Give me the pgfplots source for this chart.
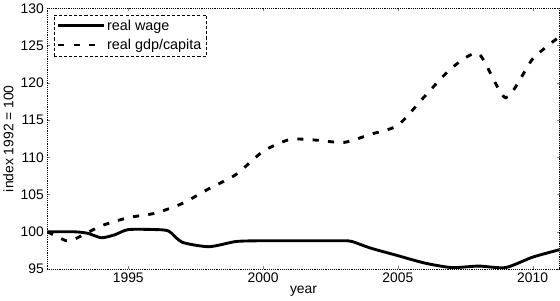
\documentclass[border=0pt]{standalone}
\usepackage{pgfplots}
\pgfplotsset{compat=1.18}
\usepackage{fontspec}
\setmainfont{Liberation Sans}
\begin{document}
\begin{tikzpicture}
\begin{axis}[
  scale only axis,
  width=497bp, height=253bp,
  xmin=1992, xmax=2011, ymin=95, ymax=130,
  xtick={1995,2000,2005,2010},
  ytick={95,100,...,130},
  tick align=inside,
  xticklabel style={/pgf/number format/1000 sep={}},
  /pgf/number format/assume math mode=true,
  tick label style={font=\fontsize{13.5}{14}\selectfont},
  label style={font=\fontsize{13.5}{14}\selectfont},
  xlabel={year}, ylabel={index 1992 = 100},
  xlabel style={yshift=3pt},
  axis line style={densely dotted, line width=0.8pt},
  major tick length=3pt,
  every axis plot/.append style={legend image code/.code={\draw[##1] (0bp,0bp) -- (44bp,0bp);}},
  legend style={at={(0.012,0.976)}, anchor=north west, draw=black, densely dashed, font=\fontsize{14}{15}\selectfont, inner xsep=3pt, inner ysep=3pt, row sep=3pt},
  legend cell align=left,
]
\addplot[black, solid, line width=2.8pt, smooth, tension=0.4] coordinates {
(1992,100.0) (1993,100.0) (1993.5,99.8) (1994,99.2) (1994.5,99.6) (1995,100.3) (1996,100.3) (1996.5,100.1)
(1997,98.6) (1998,98.0) (1999,98.7) (2000,98.8) (2001,98.8) (2002,98.8) (2003,98.8) (2003.3,98.7)
(2004,97.8) (2005,96.8) (2006,95.8) (2007,95.2) (2008,95.4) (2009,95.2) (2010,96.6) (2011,97.6)
};
\addlegendentry{real wage}
\addplot[black, line width=2.8pt, dash pattern=on 6pt off 9pt, smooth, tension=0.4] coordinates {
(1992,100) (1992.7,98.8) (1993,99.0) (1994,100.8) (1995,101.9) (1996,102.5) (1997,103.8) (1998,105.8)
(1999,107.7) (2000,110.8) (2001,112.4) (2002,112.3) (2003,112.0) (2004,113.1) (2005,114.3) (2006,118.2)
(2007,122.0) (2008,123.9) (2009,118.0) (2010,123.2) (2011,126.2)
};
\addlegendentry{real gdp/capita}
\end{axis}
\end{tikzpicture}
\end{document}
